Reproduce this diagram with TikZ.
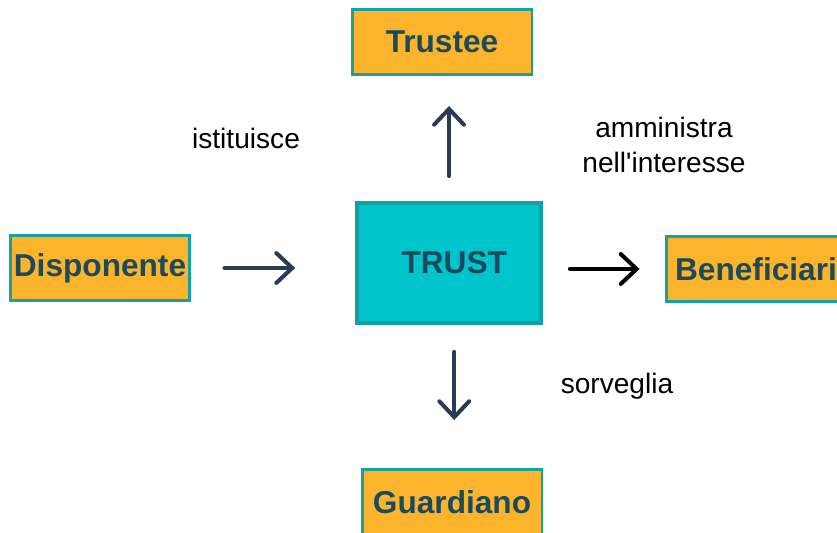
\documentclass[tikz,border=0pt]{standalone}
\usepackage{fontspec}
\setmainfont{Liberation Sans}
\usetikzlibrary{arrows.meta}
\definecolor{boxorange}{HTML}{FCB42C}
\definecolor{boxteal}{HTML}{17A0A2}
\definecolor{trustfill}{HTML}{00C4CC}
\definecolor{trustline}{HTML}{13A0A5}
\definecolor{boxtext}{HTML}{1B4A5C}
\definecolor{arrownavy}{HTML}{2B3A55}

\begin{document}
\begin{tikzpicture}[x=0.02cm, y=-0.02cm,
  role/.style={draw=boxteal, fill=boxorange, line width=1.7pt, minimum width=3.6cm, minimum height=1.3cm, inner sep=0pt, text=boxtext, font=\fontsize{18pt}{20pt}\selectfont\bfseries},
  lbl/.style={font=\fontsize{16pt}{20pt}\selectfont, align=center},
  arr/.style={draw=arrownavy, line width=2.3pt, line cap=round, -{Straight Barb[length=9pt, width=17pt, line cap=round]}}]
			\clip (0,0) rectangle (837,533);
			\node (trustee) at (442,42) [role] {Trustee};
			\node (disp) at (100,268) [role] {Disponente};
			\node (bene) at (756,269) [role] {Beneficiari};
			\node (guard) at (452,502) [role] {Guardiano};
			\node (trust) at (449,263) [draw=trustline, fill=trustfill, line width=2.2pt, minimum width=3.68cm, minimum height=2.4cm, text=boxtext, font=\fontsize{18pt}{20pt}\selectfont\bfseries] {\hspace{6pt}TRUST};
			\node (ist) at (246,138) [lbl] {istituisce};
			\node (amm) at (664,145) [lbl] {amministra\\nell\textquotesingle interesse};
			\node (sorv) at (617,386) [lbl] {sorveglia};
			\draw[arr, shorten <=0.5cm, shorten >=0.6cm] (trust.north) -- (trust.north |- trustee.south);
			\draw[arr, shorten <=0.66cm, shorten >=1.2cm] (disp.east) -- (disp.east -| trust.west);
			\draw[arr, draw=black, shorten <=0.54cm, shorten >=0.5cm] (trust.east |- bene.west) -- (bene.west);
			\draw[arr, shorten <=0.54cm, shorten >=0.96cm] ([xshift=3pt]trust.south) -- ([xshift=3pt]trust.south |- guard.north);
		\end{tikzpicture}
\end{document}
